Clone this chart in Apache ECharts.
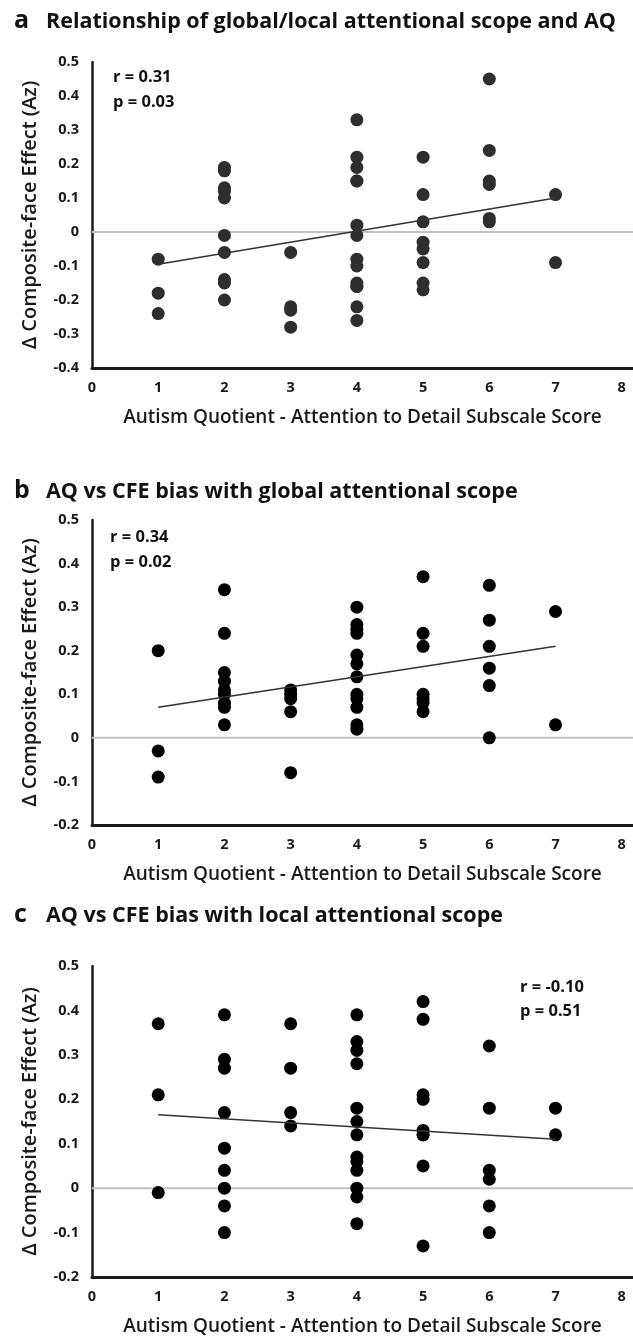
<!DOCTYPE html>
<html><head><meta charset="utf-8">
<script src="https://cdn.jsdelivr.net/npm/echarts@6/dist/echarts.min.js"></script>
<style>html,body{margin:0;padding:0;background:#fff}#c{width:633px;height:1338px}</style>
</head><body><div id="c"></div>
<script>
// ---- data ----
const xTicks = [0,1,2,3,4,5,6,7,8];
const panelTitles = ['Relationship of global/local attentional scope and AQ','AQ vs CFE bias with global attentional scope','AQ vs CFE bias with local attentional scope'];
const panelLetters = ['a','b','c'];
const statsA = ['r = 0.31','p = 0.03'];
const statsB = ['r = 0.34','p = 0.02'];
const statsC = ['r = -0.10','p = 0.51'];
const xName = 'Autism Quotient - Attention to Detail Subscale Score';
const yName = 'Δ Composite-face Effect (Az)';

const aq_a = [1,1,1, 2,2,2,2,2,2,2,2,2,2, 3,3,3,3, 4,4,4,4,4,4,4,4,4,4,4,4,4,4, 5,5,5,5,5,5,5,5, 6,6,6,6,6,6, 7,7];
const cfe_a = [-0.08,-0.18,-0.24, 0.19,0.18,0.13,0.12,0.10,-0.01,-0.06,-0.14,-0.15,-0.20, -0.06,-0.22,-0.23,-0.28,
  0.33,0.22,0.19,0.15,0.15,0.02,-0.01,-0.08,-0.10,-0.15,-0.16,-0.22,-0.26,-0.16,
  0.22,0.11,0.03,-0.03,-0.05,-0.09,-0.15,-0.17, 0.45,0.24,0.15,0.14,0.04,0.03, 0.11,-0.09];
const trend_a_x = [1,7];
const trend_a_y = [-0.095,0.10];

const aq_b = [1,1,1, 2,2,2,2,2,2,2,2,2, 3,3,3,3,3, 4,4,4,4,4,4,4,4,4,4,4,4, 5,5,5,5,5,5,5, 6,6,6,6,6,6, 7,7];
const cfe_b = [0.20,-0.03,-0.09, 0.34,0.24,0.15,0.13,0.11,0.10,0.08,0.07,0.03, 0.11,0.10,0.09,0.06,-0.08,
  0.30,0.26,0.25,0.24,0.19,0.17,0.14,0.10,0.09,0.07,0.03,0.02, 0.37,0.24,0.21,0.10,0.09,0.08,0.06,
  0.35,0.27,0.21,0.16,0.12,0.00, 0.29,0.03];
const trend_b_x = [1,7];
const trend_b_y = [0.07,0.21];

const aq_c = [1,1,1, 2,2,2,2,2,2,2,2,2, 3,3,3,3, 4,4,4,4,4,4,4,4,4,4,4,4,4, 5,5,5,5,5,5,5,5,5, 6,6,6,6,6,6, 7,7];
const cfe_c = [0.37,0.21,-0.01, 0.39,0.29,0.27,0.17,0.09,0.04,0.00,-0.04,-0.10, 0.37,0.27,0.17,0.14,
  0.39,0.33,0.31,0.28,0.18,0.15,0.12,0.07,0.06,0.04,0.00,-0.02,-0.08,
  0.42,0.38,0.21,0.20,0.13,0.12,0.12,0.05,-0.13, 0.32,0.18,0.04,0.02,-0.04,-0.10, 0.18,0.12];
const trend_c_x = [1,7];
const trend_c_y = [0.165,0.11];

const xRange = {min:0, max:8.17, interval:1};
const yA = {min:-0.4,max:0.5,interval:0.1};
const yB = {min:-0.2,max:0.5,interval:0.1};
const yC = {min:-0.2,max:0.5,interval:0.1};
const zeroX = [0,8.17];
const zeroY = [0,0];

// ---- build ----
const FONT = '"Open Sans", "Noto Sans", sans-serif';
const pair = (xs, ys) => xs.map((x,i)=>[x,ys[i]]);
const grids = [
  {left:92, right:0, top:62, height:306},
  {left:92, right:0, top:520, height:305},
  {left:92, right:0, top:966, height:311}
];
const yRanges = [yA,yB,yC];
const fmtY = v => (Math.abs(v) < 1e-9 ? '0' : (Math.round(v*10)/10).toString());
const fmtX = v => (xTicks.indexOf(Math.round(v*1000)/1000) >= 0 ? String(Math.round(v)) : '');

const xAxes = grids.map((g,i)=>({
  gridIndex:i, type:'value', min:xRange.min, max:xRange.max, interval:xRange.interval,
  name:xName, nameLocation:'middle', nameGap:40,
  nameTextStyle:{fontFamily:FONT, fontSize:19, fontWeight:600, color:'#1a1a1a'},
  axisLine:{show:true, onZero:false, lineStyle:{color:'#1a1a1a', width:3}},
  axisTick:{show:false}, splitLine:{show:false},
  axisLabel:{fontFamily:FONT, fontSize:14.5, fontWeight:'bold', color:'#1a1a1a', margin:12, formatter:fmtX,
    showMaxLabel:false}
}));
const yAxes = grids.map((g,i)=>({
  gridIndex:i, type:'value', min:yRanges[i].min, max:yRanges[i].max, interval:yRanges[i].interval,
  name:yName, nameLocation:'middle', nameGap:52, nameRotate:90,
  nameTextStyle:{fontFamily:FONT, fontSize:20, fontWeight:600, color:'#1a1a1a'},
  axisLine:{show:true, onZero:false, lineStyle:{color:'#1a1a1a', width:2.5}},
  axisTick:{show:false}, splitLine:{show:false},
  axisLabel:{fontFamily:FONT, fontSize:14.5, fontWeight:'bold', color:'#1a1a1a', margin:13, formatter:fmtY}
}));

const scatterData = [pair(aq_a,cfe_a), pair(aq_b,cfe_b), pair(aq_c,cfe_c)];
const trends = [pair(trend_a_x,trend_a_y), pair(trend_b_x,trend_b_y), pair(trend_c_x,trend_c_y)];
const dotColors = ['#2e2e2e','#000','#000'];
const series = [];
for (let i=0;i<3;i++){
  series.push({type:'line', xAxisIndex:i, yAxisIndex:i, data:pair(zeroX,zeroY), symbol:'none', silent:true,
    lineStyle:{color:'#c2c2c2', width:2}, z:1});
  series.push({type:'scatter', xAxisIndex:i, yAxisIndex:i, data:scatterData[i], symbolSize:13,
    itemStyle:{color:dotColors[i], opacity:1}, z:2});
  series.push({type:'line', xAxisIndex:i, yAxisIndex:i, data:trends[i], symbol:'none', silent:true,
    lineStyle:{color:'#333', width:1.5}, z:3});
}

const graphics = [];
const titleY = [21, 491, 915];
panelTitles.forEach((t,i)=>{
  graphics.push({type:'text', x:14, y:titleY[i], style:{text:panelLetters[i], fontFamily:FONT, fontSize:25, fontWeight:'bold', fill:'#111', verticalAlign:'middle'}});
  graphics.push({type:'text', x:46, y:titleY[i]+1, style:{text:t, fontFamily:FONT, fontSize:21.5, fontWeight:'bold', fill:'#111', verticalAlign:'middle'}});
});
const stats = [[statsA,113,77,102],[statsB,110,537,562],[statsC,520,987,1011]];
stats.forEach(([s,x,y1,y2])=>{
  graphics.push({type:'text', x:x, y:y1, style:{text:s[0], fontFamily:FONT, fontSize:16.5, fontWeight:'bold', fill:'#111', verticalAlign:'middle'}});
  graphics.push({type:'text', x:x, y:y2, style:{text:s[1], fontFamily:FONT, fontSize:16.5, fontWeight:'bold', fill:'#111', verticalAlign:'middle'}});
});

const chart = echarts.init(document.getElementById('c'), null, {renderer:'canvas'});
chart.setOption({
  animation:false, backgroundColor:'#fff',
  grid:grids, xAxis:xAxes, yAxis:yAxes, series:series, graphic:graphics
});
</script></body></html>
